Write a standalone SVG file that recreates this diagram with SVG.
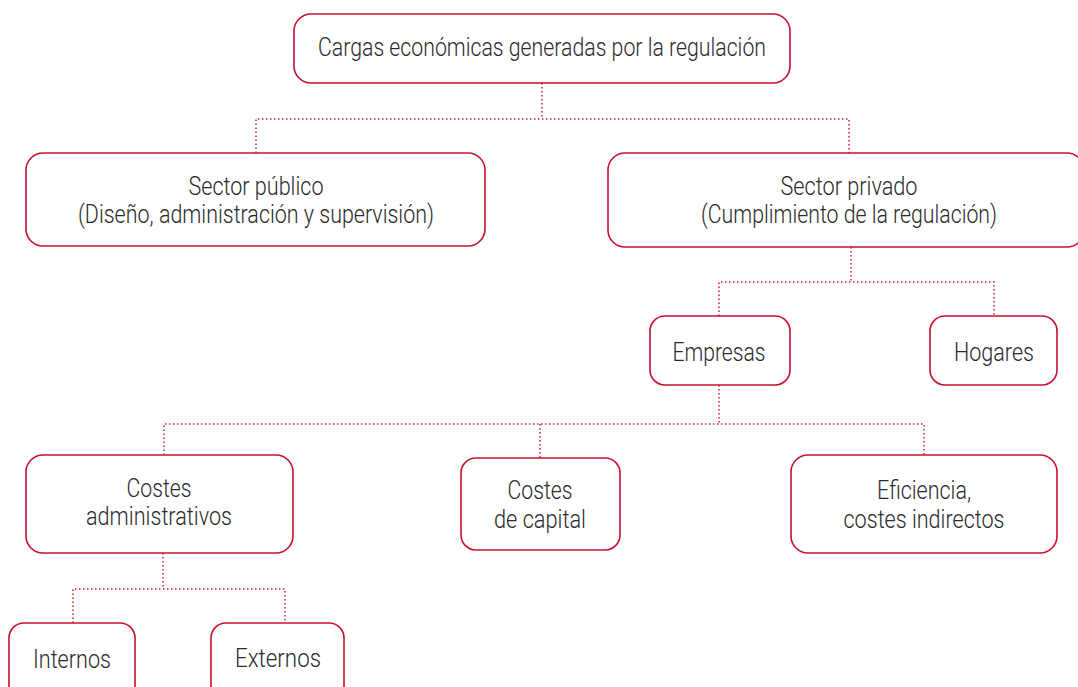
<svg xmlns="http://www.w3.org/2000/svg" width="1078" height="687" viewBox="0 0 1078 687">
<style>
.box{fill:#fff;stroke:#c8102e;stroke-width:1.6}
.con{fill:none;stroke:#c8102e;stroke-width:1.4;stroke-dasharray:1.4 2.6}
text{font-family:Roboto,"Liberation Sans",sans-serif;font-weight:300;font-size:25px;fill:#2b2b2b;text-anchor:middle}
</style>
<rect width="1078" height="687" fill="#fff"/>
<g id="connectors">
<path class="con" d="M542 83V119M256 153V119H849V153"/>
<path class="con" d="M851 247V282M719 316V282H994V316"/>
<path class="con" d="M719 385V424M164 455V424H924V455M540 424V458"/>
<path class="con" d="M163 553V589M73 623V589H285V623"/>
</g>
<g id="n-cargas"><rect class="box" x="294" y="14" width="496" height="69" rx="17"/><text x="542" y="56" textLength="448" lengthAdjust="spacingAndGlyphs">Cargas económicas generadas por la regulación</text></g>
<g id="n-publico"><rect class="box" x="26" y="153" width="459" height="93" rx="17"/><text x="256" y="195" textLength="135" lengthAdjust="spacingAndGlyphs">Sector público</text><text x="256" y="223" textLength="356" lengthAdjust="spacingAndGlyphs">(Diseño, administración y supervisión)</text></g>
<g id="n-privado"><rect class="box" x="608" y="153" width="476" height="94" rx="17"/><text x="849" y="195" textLength="137" lengthAdjust="spacingAndGlyphs">Sector privado</text><text x="849" y="223" textLength="296" lengthAdjust="spacingAndGlyphs">(Cumplimiento de la regulación)</text></g>
<g id="n-empresas"><rect class="box" x="650" y="316" width="140" height="69" rx="15"/><text x="719" y="361" textLength="93" lengthAdjust="spacingAndGlyphs">Empresas</text></g>
<g id="n-hogares"><rect class="box" x="930" y="316" width="127" height="69" rx="15"/><text x="994" y="361" textLength="80" lengthAdjust="spacingAndGlyphs">Hogares</text></g>
<g id="n-admin"><rect class="box" x="26" y="455" width="267" height="98" rx="17"/><text x="159" y="497" textLength="65" lengthAdjust="spacingAndGlyphs">Costes</text><text x="159" y="525" textLength="146" lengthAdjust="spacingAndGlyphs">administrativos</text></g>
<g id="n-capital"><rect class="box" x="461" y="458" width="159" height="92" rx="15"/><text x="540" y="499" textLength="65" lengthAdjust="spacingAndGlyphs">Costes</text><text x="540" y="528" textLength="92" lengthAdjust="spacingAndGlyphs">de capital</text></g>
<g id="n-eficiencia"><rect class="box" x="791" y="455" width="266" height="98" rx="17"/><text x="924" y="499" textLength="94" lengthAdjust="spacingAndGlyphs">Eficiencia,</text><text x="924" y="528" textLength="161" lengthAdjust="spacingAndGlyphs">costes indirectos</text></g>
<g id="n-internos"><rect class="box" x="9" y="623" width="126" height="80" rx="15"/><text x="72" y="668" textLength="78" lengthAdjust="spacingAndGlyphs">Internos</text></g>
<g id="n-externos"><rect class="box" x="211" y="623" width="133" height="80" rx="15"/><text x="278" y="667" textLength="86" lengthAdjust="spacingAndGlyphs">Externos</text></g>
</svg>
